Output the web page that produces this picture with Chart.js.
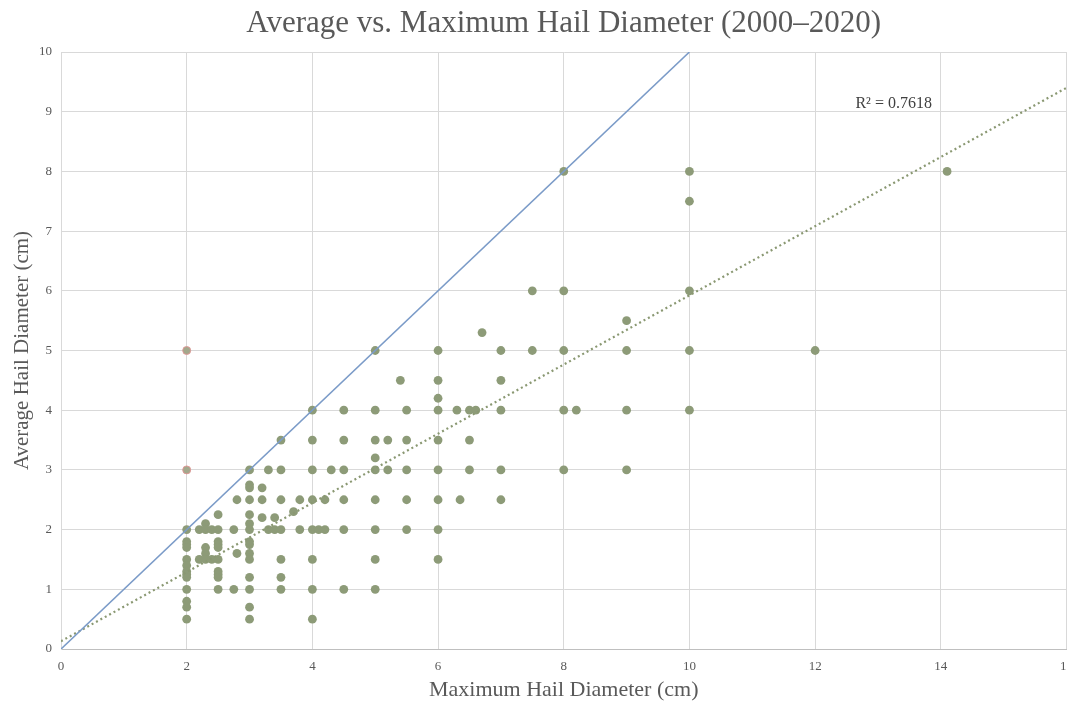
<!DOCTYPE html>
<html>
<head>
<meta charset="utf-8">
<script src="https://cdn.jsdelivr.net/npm/chart.js@4"></script>
<style>
  html, body { margin: 0; padding: 0; background: #fff; overflow: hidden; }
  #wrap { width: 1083px; height: 701px; }
</style>
</head>
<body>
<div id="wrap"><canvas id="chart"></canvas></div>
<script>
// Hail data (max vs average diameter, cm)
const maxDiameter = [
  2, 2, 2, 2, 2, 2, 2, 2, 2, 2, 2, 2, 2,
  2.2, 2.2,
  2.3, 2.3, 2.3, 2.3, 2.3,
  2.4, 2.4,
  2.5, 2.5, 2.5, 2.5, 2.5, 2.5, 2.5, 2.5, 2.5, 2.5,
  2.75, 2.75,
  2.8, 2.8,
  3, 3, 3, 3, 3, 3, 3, 3, 3, 3, 3, 3, 3, 3, 3,
  3.2, 3.2, 3.2,
  3.3, 3.3,
  3.4, 3.4,
  3.5, 3.5, 3.5, 3.5, 3.5, 3.5, 3.5,
  3.7,
  3.8, 3.8,
  4, 4, 4, 4, 4, 4, 4, 4,
  4.1,
  4.2, 4.2,
  4.3,
  4.5, 4.5, 4.5, 4.5, 4.5, 4.5,
  5, 5, 5, 5, 5, 5, 5, 5, 5,
  5.2, 5.2,
  5.4,
  5.5, 5.5, 5.5, 5.5, 5.5,
  6, 6, 6, 6, 6, 6, 6, 6, 6,
  6.3, 6.35,
  6.5, 6.5, 6.5,
  6.6, 6.7,
  7, 7, 7, 7, 7,
  7.5, 7.5,
  8, 8, 8, 8, 8,
  8.2,
  9, 9, 9, 9,
  10, 10, 10, 10, 10,
  12, 14.1
];
const avgDiameter = [
  2, 1.8, 1.75, 1.7, 1.5, 1.4, 1.3, 1.25, 1.2, 1, 0.8, 0.7, 0.5,
  2, 1.5,
  2.1, 2, 1.7, 1.6, 1.5,
  2, 1.5,
  2.25, 2, 1.8, 1.75, 1.7, 1.5, 1.3, 1.25, 1.2, 1,
  2, 1,
  2.5, 1.6,
  3, 2.75, 2.7, 2.5, 2.25, 2.1, 2, 1.8, 1.75, 1.6, 1.5, 1.2, 1, 0.7, 0.5,
  2.7, 2.5, 2.2,
  3, 2,
  2.2, 2,
  3.5, 3, 2.5, 2, 1.5, 1.2, 1,
  2.3,
  2.5, 2,
  4, 3.5, 3, 2.5, 2, 1.5, 1, 0.5,
  2,
  2.5, 2,
  3,
  4, 3.5, 3, 2.5, 2, 1,
  5, 4, 3.5, 3.2, 3, 2.5, 2, 1.5, 1,
  3.5, 3,
  4.5,
  4, 3.5, 3, 2.5, 2,
  5, 4.5, 4.2, 4, 3.5, 3, 2.5, 2, 1.5,
  4, 2.5,
  4, 3.5, 3,
  4, 5.3,
  5, 4.5, 4, 3, 2.5,
  6, 5,
  8, 6, 5, 4, 3,
  4,
  5.5, 5, 4, 3,
  8, 7.5, 6, 5, 4,
  5, 8
];

// two highlighted points with the pink outline
const outlierMax = [2, 2];
const outlierAvg = [5, 3];

// 1:1 reference line and the linear trendline endpoints
const refX = [0, 10];
const refY = [0, 10];
const trendX = [0, 16];
const trendY = [0.13, 9.4];
const rSquaredText = "R² = 0.7618";

const xTicks = [0, 2, 4, 6, 8, 10, 12, 14, 16];
const yTicks = [0, 1, 2, 3, 4, 5, 6, 7, 8, 9, 10];

const SERIF = "'Liberation Serif', 'DejaVu Serif', serif";
const TEXT = "#595959";
const GREEN = "#8d9b78";

const toPoints = (xs, ys) => xs.map((x, i) => ({ x: x, y: ys[i] }));

// title centred over the plot area, and the R² label next to the trendline
const overlayText = {
  id: "overlayText",
  afterDraw(chart) {
    const { ctx, chartArea, scales } = chart;
    ctx.save();
    ctx.fillStyle = TEXT;
    ctx.textAlign = "center";
    ctx.textBaseline = "middle";
    ctx.font = "31px " + SERIF;
    ctx.fillText("Average vs. Maximum Hail Diameter (2000\u20132020)",
      (chartArea.left + chartArea.right) / 2, 24);
    ctx.fillStyle = "#404040";
    ctx.font = "16px " + SERIF;
    ctx.fillText(rSquaredText, scales.x.getPixelForValue(13.25), scales.y.getPixelForValue(9.14));
    ctx.restore();
  },
};

const ctx = document.getElementById("chart").getContext("2d");

new Chart(ctx, {
  type: "scatter",
  data: {
    datasets: [
      {
        label: "1:1",
        type: "line",
        data: toPoints(refX, refY),
        borderColor: "#7b9bc8",
        borderWidth: 1.6,
        pointRadius: 0,
        fill: false,
        order: 0,
      },
      {
        label: "Trend",
        type: "line",
        data: toPoints(trendX, trendY),
        borderColor: "#8a9872",
        borderWidth: 2.2,
        borderDash: [2, 3],
        pointRadius: 0,
        fill: false,
        order: 1,
      },
      {
        label: "Outliers",
        data: toPoints(outlierMax, outlierAvg),
        backgroundColor: "#a3a88c",
        borderColor: "rgba(226, 150, 150, 0.9)",
        borderWidth: 1,
        pointRadius: 4,
        order: 2,
      },
      {
        label: "Events",
        data: toPoints(maxDiameter, avgDiameter),
        backgroundColor: GREEN,
        borderColor: GREEN,
        borderWidth: 0,
        pointRadius: 4.4,
        order: 3,
      },
    ],
  },
  options: {
    responsive: true,
    maintainAspectRatio: false,
    animation: false,
    layout: {
      padding: { top: 52, left: 0, right: 0, bottom: 0 },
    },
    plugins: {
      legend: { display: false },
      tooltip: { enabled: false },
      title: { display: false },
    },
    scales: {
      x: {
        type: "linear",
        min: 0,
        max: 16,
        afterBuildTicks: (axis) => { axis.ticks = xTicks.map((v) => ({ value: v })); },
        afterFit: (axis) => { axis.height = 52; },
        grid: { color: "#d9d9d9", lineWidth: 1, drawTicks: false },
        border: { color: "#bfbfbf" },
        ticks: {
          color: TEXT,
          padding: 10,
          font: { family: SERIF, size: 13 },
          maxRotation: 0,
        },
        title: {
          display: true,
          text: "Maximum Hail Diameter (cm)",
          color: TEXT,
          font: { family: SERIF, size: 22, lineHeight: 1 },
          padding: { top: 0, bottom: 0 },
        },
      },
      y: {
        type: "linear",
        min: 0,
        max: 10,
        afterBuildTicks: (axis) => { axis.ticks = yTicks.map((v) => ({ value: v })); },
        afterFit: (axis) => { axis.width = 61; },
        grid: { color: "#d9d9d9", lineWidth: 1, drawTicks: false },
        border: { color: "#d9d9d9" },
        ticks: {
          color: TEXT,
          padding: 9,
          font: { family: SERIF, size: 13 },
        },
        title: {
          display: true,
          text: "Average Hail Diameter (cm)",
          color: TEXT,
          font: { family: SERIF, size: 21, lineHeight: 1 },
          padding: { top: 12, bottom: 0 },
        },
      },
    },
  },
  plugins: [overlayText],
});
</script>
</body>
</html>
